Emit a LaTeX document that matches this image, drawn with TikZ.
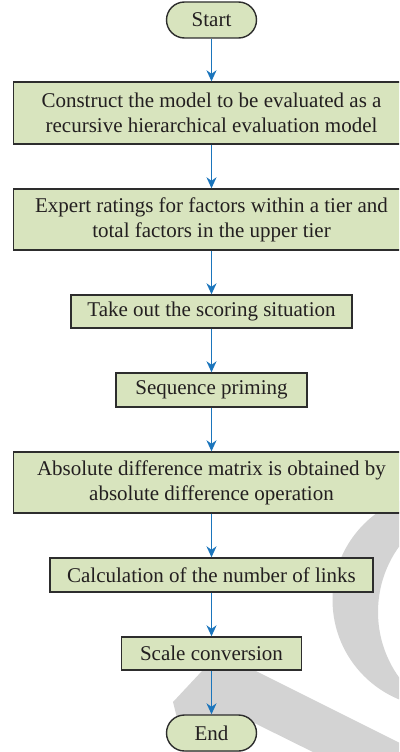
\documentclass[tikz,border=0pt]{standalone}
\usepackage{fontspec}
\setmainfont{Liberation Serif}
\usetikzlibrary{arrows.meta}
\definecolor{boxfill}{RGB}{216,228,190}
\definecolor{boxdraw}{RGB}{45,45,45}
\definecolor{arrowblue}{RGB}{27,117,188}
\definecolor{txt}{RGB}{35,31,32}
\definecolor{wm}{RGB}{211,211,211}
\begin{document}
\begin{tikzpicture}[x=1pt,y=-1pt,
  box/.style={draw=boxdraw, line width=1.4pt, fill=boxfill, text=txt, inner sep=0pt,
    align=center, font=\fontsize{21}{25}\selectfont},
  term/.style={box, rounded corners=18pt, minimum width=90pt, minimum height=36pt},
  arr/.style={draw=arrowblue, line width=1.3pt, -{Stealth[length=11pt,width=10pt,inset=3.5pt]}}]
\useasboundingbox (0,0) rectangle (399,752);
\clip (0,0) rectangle (399,752);
% watermark
\fill[wm, even odd rule] (440,600) circle[radius=107.5pt] (490,612) circle[radius=112pt];
\fill[wm] (219.2,652.6) -- (430,758) -- (430,810) -- (222,707) -- (244,716)
  -- (240,770) -- (190,770) -- (173,702) -- cycle;
% nodes
\node[term] (start) at (211.5,20) {Start};
\node[box, minimum width=396pt, minimum height=62pt] (b1) at (211.5,113)
  {Construct the model to be evaluated as a\\recursive hierarchical evaluation model};
\node[box, minimum width=396pt, minimum height=61pt] (b2) at (211.5,219.5)
  {Expert ratings for factors within a tier and\\total factors in the upper tier};
\node[box, minimum width=281pt, minimum height=33pt] (b3) at (211.5,311.5)
  {Take out the scoring situation};
\node[box, minimum width=191pt, minimum height=34pt] (b4) at (211.5,390)
  {Sequence priming};
\node[box, minimum width=396pt, minimum height=61pt] (b5) at (211.5,482.5)
  {Absolute difference matrix is obtained by\\absolute difference operation};
\node[box, minimum width=323pt, minimum height=34pt] (b6) at (211.5,575)
  {Calculation of the number of links};
\node[box, minimum width=180pt, minimum height=33pt] (b7) at (211.5,653.5)
  {Scale conversion};
\node[term] (end) at (211.5,733) {End};
% connectors
\draw[arr] (start) -- (b1);
\draw[arr] (b1) -- (b2);
\draw[arr] (b2) -- (b3);
\draw[arr] (b3) -- (b4);
\draw[arr] (b4) -- (b5);
\draw[arr] (b5) -- (b6);
\draw[arr] (b6) -- (b7);
\draw[arr] (b7) -- (end);
\end{tikzpicture}
\end{document}
